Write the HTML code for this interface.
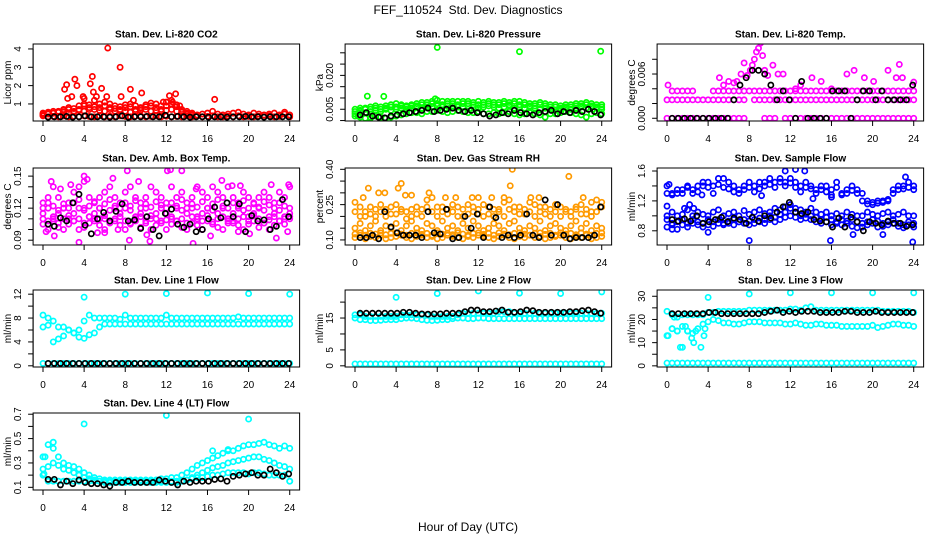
<!DOCTYPE html>
<html><head><meta charset="utf-8"><title>FEF_110524 Std. Dev. Diagnostics</title>
<style>
html,body{margin:0;padding:0;background:#fff;}
svg{display:block;font-family:"Liberation Sans",Arial,sans-serif;}
</style></head>
<body>
<svg id="chart" width="936" height="540" viewBox="0 0 936 540">
<rect x="0" y="0" width="936" height="540" fill="#fff"/>
<text x="468" y="14" font-size="12" text-anchor="middle">FEF_110524&#160; Std. Dev. Diagnostics</text>
<text x="468" y="531" font-size="12" text-anchor="middle">Hour of Day (UTC)</text>
</svg>
<script>
// ---- data (colored series sampled every 0.5 h from 0; black every 0.6 h from 0.5) ----
const co2Base=[0.35,0.3,0.32,0.3,0.35,0.3,0.33,0.3,0.35,0.32,0.3,0.35,0.3,0.33,0.3,0.35,0.32,0.3,0.33,0.35,0.3,0.32,0.35,0.3,0.33,0.3,0.32,0.3,0.35,0.3,0.33,0.3,0.32,0.35,0.3,0.3,0.33,0.3,0.35,0.3,0.32,0.3,0.33,0.3,0.35,0.3,0.32,0.45,0.3];
const co2Mid=[0.4,0.45,0.5,0.55,0.55,0.5,0.6,0.7,0.9,0.8,0.7,1.0,0.9,0.8,0.75,0.7,0.8,0.85,0.7,0.75,0.85,0.9,0.8,0.7,0.9,1.0,0.85,0.6,0.5,0.45,0.4,0.45,0.5,0.6,0.45,0.4,0.45,0.5,0.55,0.45,0.4,0.5,0.45,0.4,0.45,0.5,0.4,0.55,0.4];
const co2Mid2=[0.5,0.55,0.6,0.6,0.65,0.7,0.55,0.65,0.6,0.7,1.2,0.65,0.6,0.7,0.6,0.65,0.6,0.55,0.6,0.65,0.7,0.6,0.65,0.6,0.65,0.7,0.6,0.55,0.45,0.4];
const co2Mid3=[0.45,0.5,0.5,0.55,0.7,0.8,0.75,0.9,1.0,0.95,0.85,0.8,1.1,1.0,0.9,0.85,0.95,1.0,0.9,0.8,0.95,1.05,1.0,0.9,1.1,1.2,0.95,0.7,0.6,0.5];
const co2OutH=[2.1,2.3,2.4,2.8,3.1,3.3,4.6,4.8,4.9,5.7,6.3,7.5,7.6,8.5,9.6,12.3,12.9,16.7,5.2,6.2,3.9,4.0,8.8,12.6,11.7,13.3];
const co2OutV=[1.8,2.05,1.3,1.4,2.35,2.0,2.1,2.5,1.65,1.85,4.05,3.0,1.4,1.8,1.6,1.45,1.55,1.25,1.4,1.4,1.4,1.3,1.2,1.1,1.1,0.9];
const co2Black=[0.28,0.3,0.3,0.32,0.28,0.3,0.35,0.3,0.3,0.3,0.28,0.3,0.35,0.28,0.3,0.3,0.32,0.3,0.3,0.38,0.3,0.32,0.3,0.28,0.3,0.3,0.28,0.3,0.3,0.28,0.3,0.3,0.32,0.3,0.3,0.28,0.3,0.3,0.3,0.3];

const presHi=[0.005,0.0055,0.005,0.006,0.0065,0.006,0.0065,0.007,0.0075,0.007,0.0065,0.007,0.0075,0.008,0.008,0.0085,0.009,0.0085,0.0085,0.0085,0.0085,0.0085,0.0085,0.008,0.0085,0.008,0.0085,0.008,0.008,0.0085,0.008,0.0085,0.0085,0.008,0.0075,0.0075,0.008,0.0075,0.007,0.007,0.0065,0.007,0.007,0.0075,0.0075,0.008,0.0075,0.007,0.007];
const presMid=[0.003,0.004,0.0035,0.004,0.0045,0.004,0.005,0.0045,0.005,0.0055,0.005,0.0055,0.006,0.0055,0.006,0.006,0.0065,0.006,0.0065,0.0065,0.006,0.006,0.0065,0.006,0.0055,0.006,0.0065,0.006,0.0055,0.006,0.0065,0.0055,0.006,0.0055,0.006,0.0055,0.005,0.0055,0.005,0.0045,0.005,0.0055,0.005,0.0055,0.006,0.0055,0.006,0.0055,0.005];
const presMid2=[0.004,0.0045,0.0055,0.005,0.0055,0.005,0.0055,0.006,0.006,0.0065,0.006,0.0065,0.0065,0.007,0.007,0.0075,0.0075,0.007,0.0075,0.0075,0.007,0.0075,0.0075,0.007,0.007,0.007,0.0075,0.007,0.007,0.0075,0.007,0.0075,0.007,0.007,0.0065,0.0065,0.007,0.0065,0.006,0.006,0.0055,0.006,0.006,0.0065,0.0065,0.007,0.0065,0.006,0.006];
const presLo=[0.002,0.0015,0.001,0.0015,0.002,0.0015,0.001,0.0015,0.002,0.0025,0.003,0.0035,0.0035,0.003,0.004,0.004,0.0045,0.004,0.0035,0.004,0.0045,0.004,0.0035,0.0035,0.004,0.003,0.003,0.0035,0.003,0.0035,0.004,0.003,0.0025,0.003,0.0035,0.003,0.0025,0.0015,0.003,0.003,0.0035,0.004,0.0035,0.003,0.0025,0.0015,0.003,0.0035,0.003];
const presOutH=[1.2,2.8,7.8,8.0,16.0,23.9,0.3,1.5];
const presOutV=[0.0108,0.0107,0.0096,0.0324,0.0305,0.0307,0.002,0.001];
const presBlack=[0.0025,0.0035,0.002,0.0015,0.0012,0.002,0.0025,0.003,0.0035,0.004,0.0045,0.0055,0.004,0.0045,0.005,0.0055,0.0045,0.004,0.0045,0.0035,0.003,0.002,0.0025,0.0035,0.003,0.0045,0.0035,0.003,0.0025,0.0035,0.004,0.0045,0.003,0.004,0.0035,0.0045,0.004,0.005,0.004,0.0025];

const tempZero=[0,0,0,0,0,0,0,0,0,0,0,0,0,0,0,0,null,null,null,0,0,0,null,0,0,0,0,0,0,0,0,0,0,0,0,0,0,0,0,0,0,0,0,0,0,0,0,0,0];
const tempLow=[0.0025,0.0025,0.0025,0.0025,0.0025,0.0025,0.0025,0.0025,0.0025,0.0025,0.0025,0.0025,0.0025,0.0025,0.0025,0.0025,null,0.0025,0.0025,0.0025,0.0025,0.0025,0.0025,0.0025,0.0025,0.0025,0.0025,0.0025,0.0025,0.0025,0.0025,0.0025,0.0025,0.0025,0.0025,0.0025,0.0025,0.0025,0.0025,0.0025,0.0025,0.0025,0.0025,0.0025,0.0025,0.0025,0.0025,0.0025,0.0025];
const tempMid=[null,0.0037,0.0037,0.0037,0.0037,0.0037,null,null,null,0.0037,0.0037,0.0037,0.0037,0.0037,0.0037,0.0037,0.0037,0.0037,0.0037,0.0037,0.0037,0.0037,0.0037,0.0037,0.0037,0.0037,0.0037,0.0037,0.0037,0.0037,0.0037,0.0037,0.0037,0.0037,0.0037,0.0037,0.0037,0.0037,0.0037,0.0037,0.0037,0.0037,0.0037,0.0037,0.0037,0.0037,0.0037,0.0037,0.0037];
const tempOutH=[0.1,5.1,6.0,6.5,7.2,7.5,7.8,8.1,8.3,8.5,8.7,8.9,9.1,9.3,9.5,9.8,10.3,10.8,11.3,14.1,15.0,17.5,18.2,19.2,20.1,21.5,22.6,22.3,22.9,24.0,5.5,6.8,12.5,13.0,16.0];
const tempOutV=[0.0045,0.0055,0.005,0.0048,0.006,0.0075,0.0058,0.0065,0.0072,0.008,0.009,0.0095,0.0102,0.0085,0.0065,0.0058,0.0072,0.006,0.006,0.0055,0.005,0.006,0.0065,0.0055,0.005,0.0065,0.0073,0.0055,0.0055,0.0049,0.0045,0.005,0.004,0.0045,0.004];
const tempBlack=[0,0,0,0,0,0,0,0,0,0,0.0025,0.0045,0.0055,0.0065,0.0065,0.006,0.0045,0.0025,0.0037,0.0025,0,0.005,0,0,0,0,0.0037,0.0037,0.0037,0,0.0025,0.0037,0.0037,0.0025,0.0037,0.0025,0.0025,0.0025,0.0025,0.0045];

const boxA=[0.125,0.13,0.14,0.13,0.12,0.125,0.135,0.14,0.145,0.13,0.125,0.13,0.135,0.14,0.13,0.125,0.135,0.14,0.13,0.125,0.13,0.14,0.135,0.13,0.125,0.14,0.13,0.135,0.125,0.13,0.14,0.135,0.13,0.14,0.135,0.13,0.14,0.13,0.125,0.135,0.13,0.125,0.13,0.135,0.13,0.125,0.135,0.13,0.14];
const boxB=[0.115,0.12,0.11,0.115,0.12,0.11,0.115,0.12,0.118,0.112,0.115,0.12,0.11,0.118,0.12,0.115,0.12,0.118,0.112,0.115,0.12,0.11,0.115,0.12,0.115,0.11,0.12,0.118,0.115,0.12,0.112,0.115,0.12,0.118,0.115,0.12,0.11,0.115,0.12,0.118,0.112,0.115,0.12,0.118,0.112,0.115,0.118,0.112,0.115];
const boxC=[0.105,0.1,0.108,0.102,0.1,0.105,0.108,0.1,0.102,0.106,0.11,0.104,0.1,0.106,0.108,0.104,0.1,0.105,0.108,0.102,0.106,0.1,0.104,0.108,0.1,0.105,0.108,0.102,0.1,0.106,0.104,0.1,0.108,0.105,0.102,0.1,0.106,0.108,0.104,0.1,0.105,0.108,0.102,0.106,0.1,0.104,0.108,0.105,0.11];
const boxD=[0.12,0.125,0.122,0.118,0.124,0.12,0.125,0.128,0.12,0.122,0.126,0.12,0.124,0.128,0.122,0.12,0.125,0.122,0.127,0.12,0.124,0.121,0.126,0.123,0.12,0.125,0.122,0.128,0.12,0.124,0.121,0.126,0.12,0.124,0.128,0.122,0.12,0.125,0.122,0.127,0.12,0.124,0.121,0.126,0.123,0.12,0.125,0.122,0.12];
const boxE=[0.11,0.108,0.112,0.106,0.11,0.113,0.108,0.11,0.106,0.112,0.108,0.11,0.113,0.107,0.11,0.112,0.108,0.106,0.11,0.112,0.108,0.113,0.11,0.106,0.109,0.112,0.108,0.11,0.106,0.112,0.11,0.108,0.113,0.107,0.11,0.112,0.108,0.106,0.11,0.112,0.108,0.113,0.11,0.106,0.109,0.112,0.108,0.11,0.112];
const boxOutH=[0.3,1.1,0.8,1.7,2.7,3.5,4.0,4.3,6.0,6.8,8.2,8.4,9.3,10.1,10.4,12.1,12.4,13.5,14.6,14.9,16.3,17.4,18.4,19.0,19.2,20.1,22.7,22.2,23.9,23.8,7.3,5.3];
const boxOutV=[0.098,0.094,0.145,0.138,0.142,0.088,0.15,0.147,0.097,0.148,0.155,0.09,0.145,0.095,0.089,0.155,0.156,0.155,0.087,0.138,0.094,0.146,0.141,0.098,0.141,0.096,0.092,0.142,0.142,0.098,0.1,0.097];
const boxBlack=[0.105,0.103,0.111,0.108,0.125,0.133,0.104,0.096,0.11,0.116,0.108,0.117,0.124,0.108,0.109,0.101,0.112,0.1,0.094,0.115,0.119,0.105,0.102,0.105,0.098,0.1,0.11,0.121,0.111,0.125,0.112,0.124,0.098,0.113,0.108,0.109,0.1,0.103,0.128,0.112];

const rhHi=[0.26,0.2,0.22,0.24,0.2,0.25,0.23,0.21,0.25,0.22,0.19,0.23,0.24,0.2,0.27,0.28,0.24,0.22,0.23,0.25,0.24,0.2,0.25,0.22,0.21,0.25,0.24,0.2,0.23,0.26,0.27,0.22,0.24,0.21,0.26,0.25,0.22,0.24,0.2,0.25,0.24,0.22,0.2,0.23,0.25,0.21,0.22,0.27,0.26];
const rhHi2=[0.22,0.24,0.2,0.21,0.23,0.22,0.2,0.24,0.21,0.23,0.22,0.2,0.21,0.23,0.24,0.22,0.2,0.24,0.21,0.22,0.2,0.23,0.21,0.24,0.23,0.2,0.21,0.23,0.22,0.2,0.23,0.24,0.21,0.23,0.22,0.2,0.24,0.21,0.23,0.22,0.2,0.23,0.22,0.24,0.21,0.23,0.2,0.22,0.24];
const rhLo=[0.11,0.12,0.105,0.115,0.11,0.12,0.105,0.11,0.115,0.12,0.11,0.105,0.115,0.12,0.11,0.115,0.105,0.11,0.12,0.115,0.11,0.105,0.115,0.11,0.12,0.115,0.11,0.105,0.115,0.12,0.11,0.105,0.115,0.11,0.12,0.11,0.115,0.105,0.11,0.115,0.12,0.11,0.105,0.115,0.11,0.12,0.105,0.11,0.115];
const rhLo2=[0.125,0.13,0.12,0.128,0.125,0.13,0.122,0.128,0.13,0.125,0.12,0.128,0.13,0.124,0.128,0.12,0.13,0.125,0.128,0.122,0.13,0.125,0.12,0.128,0.13,0.124,0.128,0.12,0.13,0.125,0.122,0.128,0.13,0.125,0.12,0.128,0.13,0.124,0.128,0.12,0.13,0.125,0.128,0.122,0.13,0.125,0.12,0.128,0.13];
const rhMid=[0.15,0.17,0.14,0.16,0.18,0.14,0.16,0.15,0.17,0.14,0.16,0.18,0.15,0.14,0.17,0.16,0.14,0.18,0.15,0.16,0.14,0.17,0.15,0.18,0.16,0.14,0.15,0.17,0.16,0.14,0.17,0.18,0.15,0.14,0.16,0.15,0.18,0.14,0.16,0.17,0.15,0.14,0.16,0.18,0.15,0.17,0.14,0.16,0.15];
const rhOutH=[1.3,2.3,0.8,2.9,4.5,4.2,4.9,5.5,7.2,8.8,9.8,11.4,12.0,13.3,14.5,15.1,15.3,17.1,17.9,20.8,22.2,23.0];
const rhOutV=[0.32,0.3,0.28,0.3,0.34,0.32,0.29,0.29,0.3,0.28,0.28,0.28,0.28,0.28,0.28,0.33,0.4,0.28,0.28,0.37,0.28,0.26];
const rhBlack=[0.11,0.11,0.12,0.105,0.22,0.155,0.13,0.12,0.12,0.12,0.11,0.22,0.13,0.125,0.23,0.105,0.11,0.2,0.15,0.21,0.11,0.24,0.195,0.11,0.12,0.11,0.12,0.21,0.12,0.11,0.27,0.12,0.25,0.12,0.105,0.11,0.11,0.11,0.12,0.24];

const flowU1=[1.4,1.3,1.3,1.35,1.4,1.35,1.4,1.45,1.45,1.4,1.5,1.5,1.45,1.4,1.35,1.4,1.45,1.4,1.45,1.45,1.5,1.45,1.5,1.45,1.5,1.45,1.4,1.45,1.4,1.35,1.4,1.4,1.35,1.45,1.3,1.35,1.4,1.35,1.3,1.2,1.18,1.2,1.2,1.22,1.35,1.4,1.4,1.45,1.4];
const flowU2=[1.3,1.28,1.35,1.3,1.38,1.3,1.32,1.4,1.38,1.3,1.42,1.38,1.36,1.32,1.3,1.35,1.38,1.32,1.36,1.4,1.42,1.38,1.45,1.4,1.44,1.38,1.32,1.38,1.36,1.3,1.35,1.32,1.28,1.38,1.28,1.3,1.34,1.3,1.2,1.16,1.15,1.17,1.18,1.2,1.3,1.35,1.36,1.38,1.35];
const flowL1=[0.95,0.9,0.92,0.95,0.9,0.95,0.92,0.9,0.95,0.92,0.95,0.9,0.93,0.95,0.92,0.95,0.93,0.95,0.97,0.95,1.0,0.98,1.02,1.05,1.1,1.05,1.0,1.02,1.0,0.98,0.95,0.98,0.95,0.92,0.95,0.93,0.95,0.92,0.9,0.92,0.95,0.93,0.9,0.92,0.95,0.9,0.88,0.92,0.9];
const flowL2=[0.85,0.88,0.82,0.88,0.85,0.9,0.88,0.85,0.88,0.86,0.9,0.88,0.9,0.88,0.92,0.9,0.88,0.9,0.92,0.9,0.95,0.92,0.95,0.98,1.0,0.98,0.95,0.97,0.95,0.92,0.9,0.92,0.88,0.9,0.88,0.9,0.86,0.84,0.85,0.88,0.9,0.85,0.86,0.88,0.9,0.86,0.84,0.88,0.85];
const flowL3=[1.0,1.05,1.0,1.02,1.08,1.0,1.05,1.02,1.0,1.05,1.08,1.0,1.03,1.05,1.0,1.07,1.02,1.05,1.08,1.03,1.05,1.1,1.08,1.12,1.15,1.1,1.08,1.05,1.1,1.05,1.02,1.05,1.0,1.03,1.0,1.05,1.02,1.0,1.0,1.05,1.02,1.0,1.03,1.05,1.0,1.02,1.05,1.0,1.0];
const flowOutH=[0.2,0.0,1.7,2.2,2.6,8.0,9.2,11.5,12.5,15.9,14.2,16.0,23.9,18.1,21.0,23.2,4.0,0.5,3.4,13.4];
const flowOutV=[1.42,1.13,1.1,1.15,1.1,0.67,1.27,1.6,1.62,0.67,1.23,1.25,0.65,0.75,0.75,1.52,0.78,0.82,1.28,1.6];
const flowBlack=[0.95,0.93,0.96,0.93,1.0,0.9,0.92,0.95,0.98,0.92,0.97,0.95,0.9,0.98,0.93,1.0,0.97,1.05,1.12,1.18,1.05,1.03,1.05,0.95,0.93,0.92,0.85,0.97,0.85,0.98,0.92,0.8,0.92,0.9,0.88,0.93,0.9,0.9,0.86,0.88];

const l1Hi=[8.5,8.0,7.5,6.5,6.5,6,5.5,6,7.5,8.5,8,8,8,8,8,7.8,8.5,8,8,8,8,8,8,8,8.5,8,8,8,8,8,8,8,8,8,8,8,8,8,8.2,8,8,8,8,8,8,8,8,8,8];
const l1Lo=[6.5,6.8,4.0,4.5,5,6,5.5,4.8,4.6,5.2,5.5,6.5,7,7,7,7,7,7,7,7,7,7,7,7,7,7,7,7,7,7,7,7,7,7,7,7,7,7,7,7,7,7,7,7,7,7,7,7,7];
const l1Zero=[0.4,0.4,0.4,0.4,0.4,0.4,0.4,0.4,0.4,0.4,0.4,0.4,0.4,0.4,0.4,0.4,0.4,0.4,0.4,0.4,0.4,0.4,0.4,0.4,0.4,0.4,0.4,0.4,0.4,0.4,0.4,0.4,0.4,0.4,0.4,0.4,0.4,0.4,0.4,0.4,0.4,0.4,0.4,0.4,0.4,0.4,0.4,0.4,0.4];
const l1OutH=[4,8,12,16,20,24];
const l1OutV=[11.5,12,12.1,12.2,12.1,12];
const l1Black=[0.4,0.4,0.4,0.4,0.4,0.4,0.4,0.4,0.4,0.4,0.4,0.4,0.4,0.4,0.4,0.4,0.4,0.4,0.4,0.4,0.4,0.4,0.4,0.4,0.4,0.4,0.4,0.4,0.4,0.4,0.4,0.4,0.4,0.4,0.4,0.4,0.4,0.4,0.4,0.4];

const l2Hi=[16,16,15.5,15.5,15.5,15.5,15.5,15.5,15.5,16,16,16,16,16,16,15.5,15.5,15.5,15.5,15.5,16,16.5,16.5,16.5,16.5,16.5,16.5,16.5,17,17,17,16.5,16.5,16.5,16.5,16.5,16.5,16.5,16.5,16.5,16.5,16.5,16.5,16.5,16.5,16.5,16.5,16.5,16.5];
const l2Lo=[15,14.5,14.5,14.2,14.2,14.3,14.5,14.5,14.5,14.8,15,15,14.8,14.5,14.3,14.2,14.3,14.5,14.5,14.8,15,15,14.8,14.8,15,15,14.8,14.8,14.8,14.8,14.8,14.8,14.8,14.8,14.8,14.8,14.8,14.8,14.8,14.8,14.8,14.8,14.8,14.8,14.8,14.8,14.8,14.8,14.8];
const l2Zero=[0.6,0.6,0.6,0.6,0.6,0.6,0.6,0.6,0.6,0.6,0.6,0.6,0.6,0.6,0.6,0.6,0.6,0.6,0.6,0.6,0.6,0.6,0.6,0.6,0.6,0.6,0.6,0.6,0.6,0.6,0.6,0.6,0.6,0.6,0.6,0.6,0.6,0.6,0.6,0.6,0.6,0.6,0.6,0.6,0.6,0.6,0.6,0.6,0.6];
const l2OutH=[4,8,12,16,20,24];
const l2OutV=[21.5,22.7,23.5,22.8,22.7,23.2];
const l2Black=[16.5,16.5,16.5,16.5,16.5,16.5,16.5,16.8,16.8,16.5,16.3,16.2,16.3,16.3,16.5,16.5,16.5,17,17.5,17.5,17,17,17.2,17.5,16.8,16.8,17,17.5,17.3,16.8,16.8,16.8,16.8,16.8,17,17,17.3,17.5,17,16.5];

const l3Hi=[23.5,22,21,22,22,22,22,22,23,23,23.5,23.5,23.5,23.5,23.5,23.5,24,24,24,24,24,24,24,24,24.5,24.5,24,25,25.5,24,24,24,24,24,24,24,24,24,24,24,24,24,23.5,23.5,23.5,23.5,23.5,23.5,23];
const l3Mid=[13,16,15,17,15,14,16,18,19,20,19.5,18.5,18.5,18,18,18.5,19,19,19,18.5,18.5,18.5,18.5,18,18,18.5,18,17.5,17.5,18,18,17.5,17.5,17.5,17,17,17,17,17,17,17.5,16.5,17,17.5,18,18,17.5,17.5,17];
const l3Zero=[1.2,1.2,1.2,1.2,1.2,1.2,1.2,1.2,1.2,1.2,1.2,1.2,1.2,1.2,1.2,1.2,1.2,1.2,1.2,1.2,1.2,1.2,1.2,1.2,1.2,1.2,1.2,1.2,1.2,1.2,1.2,1.2,1.2,1.2,1.2,1.2,1.2,1.2,1.2,1.2,1.2,1.2,1.2,1.2,1.2,1.2,1.2,1.2,1.2];
const l3OutH=[0.5,0.7,1.0,1.3,1.5,1.8,2.0,2.4,2.6,2.8,3.3,3.6,3.7,4,8,12,16,20,24,0.1];
const l3OutV=[16,21,15,8,8,17,15,12,10,15,8,13,16,29.5,31,31.5,31.5,31.5,31.5,13];
const l3Black=[22.5,22.5,22.5,22.5,22.5,22.5,23,23,22.5,22.5,22.5,22.5,22.5,22.5,22.5,23,23.5,24,23,23.5,23,23.5,23.5,23.5,23,23,23,23,23.5,23.5,23,23,23,23.5,23,23,23,23,23,23];

const l4Lo=[0.2,0.15,0.15,0.15,0.15,0.15,0.15,0.15,0.15,0.15,0.15,0.15,0.15,0.15,0.15,0.15,0.15,0.15,0.15,0.15,0.15,0.15,0.15,0.15,0.15,0.15,0.15,0.15,0.16,0.17,0.18,0.18,0.19,0.2,0.2,0.21,0.22,0.22,0.22,0.22,0.21,0.22,0.22,0.21,0.2,0.2,0.2,0.2,0.15];
const l4Hi=[0.35,0.45,0.42,0.35,0.3,0.28,0.27,0.25,0.22,0.2,0.18,0.17,0.16,0.16,0.16,0.16,0.16,0.16,0.16,0.16,0.16,0.16,0.16,0.17,0.17,0.18,0.18,0.2,0.22,0.25,0.28,0.3,0.32,0.34,0.36,0.38,0.4,0.4,0.42,0.44,0.45,0.45,0.46,0.47,0.45,0.44,0.42,0.44,0.42];
const l4Mid=[0.25,0.27,0.3,0.28,0.25,0.24,0.22,0.2,0.18,0.17,0.16,0.15,0.14,0.14,0.14,0.14,0.14,0.14,0.14,0.14,0.14,0.14,0.14,0.14,0.14,0.14,0.14,0.15,0.16,0.18,0.2,0.22,0.24,0.26,0.27,0.28,0.3,0.31,0.32,0.33,0.34,0.35,0.35,0.33,0.32,0.3,0.28,0.27,0.25];
const l4OutH=[4,12,20,1,0.1,0.2,24,16.5,18];
const l4OutV=[0.62,0.69,0.66,0.47,0.21,0.35,0.15,0.4,0.41];
const l4Black=[0.165,0.165,0.12,0.15,0.13,0.16,0.14,0.13,0.13,0.12,0.11,0.14,0.14,0.15,0.14,0.14,0.14,0.14,0.16,0.15,0.14,0.12,0.15,0.14,0.15,0.15,0.15,0.165,0.17,0.15,0.19,0.2,0.21,0.22,0.2,0.2,0.25,0.22,0.19,0.21];

const xTicks=[0,4,8,12,16,20,24];
const ticks1=[1,2,3,4], labels1=["1","2","3","4"];
const ticks2=[0,0.005,0.01,0.015,0.02,0.025,0.03], labels2=["","0.005","","","0.020","",""];
const ticks3=[0,0.002,0.004,0.006,0.008], labels3=["0.000","","","0.006",""];
const ticks4=[0.09,0.1,0.11,0.12,0.13,0.14,0.15], labels4=["0.09","","","0.12","","","0.15"];
const ticks5=[0.1,0.15,0.2,0.25,0.3,0.35,0.4], labels5=["0.10","","","0.25","","","0.40"];
const ticks6=[0.8,1.0,1.2,1.4,1.6], labels6=["0.8","","1.2","","1.6"];
const ticks7=[0,2,4,6,8,10,12], labels7=["0","","4","","8","","12"];
const ticks8=[0,5,10,15,20], labels8=["0","5","","15",""];
const ticks9=[0,5,10,15,20,25,30], labels9=["0","","10","","20","","30"];
const ticks10=[0.1,0.2,0.3,0.4,0.5,0.6,0.7], labels10=["0.1","","0.3","","0.5","","0.7"];

// ---- layout ----
const NS="http://www.w3.org/2000/svg";
const svg=document.getElementById('chart');
const colT0=[43,355,667], rowTop=[44,168,290,413], PXH=10.28, BH=77;
function mk(tag,attrs,parent){const e=document.createElementNS(NS,tag);for(const k in attrs)e.setAttribute(k,attrs[k]);(parent||svg).appendChild(e);return e;}

const panels=[
 {c:0,r:0,name:'co2',title:'Stan. Dev. Li-820 CO2',yl:'Licor ppm',ylim:[0.07,4.27],ticks:ticks1,labels:labels1,color:'#ff0000',bands:[co2Base,co2Mid,co2Mid2,co2Mid3],oh:co2OutH,ov:co2OutV,black:co2Black},
 {c:1,r:0,name:'pressure',title:'Stan. Dev. Li-820 Pressure',yl:'kPa',ylim:[-0.0002,0.0339],ticks:ticks2,labels:labels2,color:'#00ff00',bands:[presHi,presMid2,presMid,presLo],oh:presOutH,ov:presOutV,black:presBlack},
 {c:2,r:0,name:'temp',title:'Stan. Dev. Li-820 Temp.',yl:'degrees C',ylim:[-0.00037,0.01007],ticks:ticks3,labels:labels3,color:'#ff00ff',bands:[tempZero,tempLow,tempMid],oh:tempOutH,ov:tempOutV,black:tempBlack},
 {c:0,r:1,name:'amb-box-temp',title:'Stan. Dev. Amb. Box Temp.',yl:'degrees C',ylim:[0.0855,0.1576],ticks:ticks4,labels:labels4,color:'#ff00ff',bands:[boxA,boxD,boxB,boxE,boxC],oh:boxOutH,ov:boxOutV,black:boxBlack},
 {c:1,r:1,name:'gas-rh',title:'Stan. Dev. Gas Stream RH',yl:'percent',ylim:[0.0785,0.4056],ticks:ticks5,labels:labels5,color:'#ff9a00',bands:[rhHi,rhHi2,rhMid,rhLo2,rhLo],oh:rhOutH,ov:rhOutV,black:rhBlack},
 {c:2,r:1,name:'sample-flow',title:'Stan. Dev. Sample Flow',yl:'ml/min',ylim:[0.61,1.64],ticks:ticks6,labels:labels6,color:'#0000ff',bands:[flowU1,flowU2,flowL3,flowL1,flowL2],oh:flowOutH,ov:flowOutV,black:flowBlack},
 {c:0,r:2,name:'line1-flow',title:'Stan. Dev. Line 1 Flow',yl:'ml/min',ylim:[-0.2,12.7],ticks:ticks7,labels:labels7,color:'#00ffff',bands:[l1Hi,l1Lo,l1Zero],oh:l1OutH,ov:l1OutV,black:l1Black},
 {c:1,r:2,name:'line2-flow',title:'Stan. Dev. Line 2 Flow',yl:'ml/min',ylim:[-0.37,23.8],ticks:ticks8,labels:labels8,color:'#00ffff',bands:[l2Hi,l2Lo,l2Zero],oh:l2OutH,ov:l2OutV,black:l2Black},
 {c:2,r:2,name:'line3-flow',title:'Stan. Dev. Line 3 Flow',yl:'ml/min',ylim:[-0.5,32.7],ticks:ticks9,labels:labels9,color:'#00ffff',bands:[l3Hi,l3Mid,l3Zero],oh:l3OutH,ov:l3OutV,black:l3Black},
 {c:0,r:3,name:'line4-flow',title:'Stan. Dev. Line 4 (LT) Flow',yl:'ml/min',ylim:[0.078,0.71],ticks:ticks10,labels:labels10,color:'#00ffff',bands:[l4Lo,l4Hi,l4Mid],oh:l4OutH,ov:l4OutV,black:l4Black}
];

panels.forEach(p=>{
  const t0=colT0[p.c], L=t0-9.9, R=t0+24*PXH+9.9, T=rowTop[p.r], B=T+BH;
  const xs=h=>t0+h*PXH;
  const ys=v=>B-(v-p.ylim[0])/(p.ylim[1]-p.ylim[0])*BH;
  const g=mk('g',{});
  
  
  const clip=mk('clipPath',{id:'clip-'+p.name},g);
  mk('rect',{x:L,y:T,width:R-L,height:BH},clip);
  const pts=mk('g',{'clip-path':'url(#clip-'+p.name+')',fill:'none','stroke-width':1.7},g);
  
  
  p.bands.forEach(arr=>{
    arr.forEach((v,i)=>{ if(v===null) return;
      const c=mk('circle',{cx:xs(i*0.5),cy:ys(v),r:2.6,stroke:p.color},pts);
      
      
    });
  });
  p.oh.forEach((h,i)=>{
    const c=mk('circle',{cx:xs(h),cy:ys(p.ov[i]),r:2.6,stroke:p.color},pts);
    
    
  });
  p.black.forEach((v,i)=>{
    const c=mk('circle',{cx:xs(0.5+i*0.6),cy:ys(v),r:2.6,stroke:'#000'},pts);
    
    
  });
  const box=mk('rect',{x:L,y:T,width:R-L,height:BH,fill:'none',stroke:'#000','stroke-width':1},g);
  
  
  mk('line',{x1:xs(0),x2:xs(24),y1:B,y2:B,stroke:'#000'},g);
  xTicks.forEach(h=>{
    mk('line',{x1:xs(h),x2:xs(h),y1:B,y2:B+5,stroke:'#000'},g);
    const t=mk('text',{x:xs(h),y:B+21,'font-size':10,'text-anchor':'middle'},g);
    t.textContent=String(h);
    
    
  });
  const tk=p.ticks;
  mk('line',{x1:L,x2:L,y1:ys(tk[0]),y2:ys(tk[tk.length-1]),stroke:'#000'},g);
  tk.forEach((v,i)=>{
    const y=ys(v);
    mk('line',{x1:L-5,x2:L,y1:y,y2:y,stroke:'#000'},g);
    if(p.labels[i]){
      const t=mk('text',{x:L-12,y:y,'font-size':10,'text-anchor':'middle',transform:'rotate(-90 '+(L-12)+' '+y+')'},g);
      t.textContent=p.labels[i];
      
      
    }
  });
  const yt=mk('text',{x:L-22,y:(T+B)/2,'font-size':10,'text-anchor':'middle',transform:'rotate(-90 '+(L-22)+' '+((T+B)/2)+')'},g);
  yt.textContent=p.yl;
  
  
  const tt=mk('text',{x:(L+R)/2,y:T-6.5,'font-size':10,'font-weight':'bold','text-anchor':'middle'},g);
  tt.textContent=p.title;
  
  
});
</script>
</body></html>
